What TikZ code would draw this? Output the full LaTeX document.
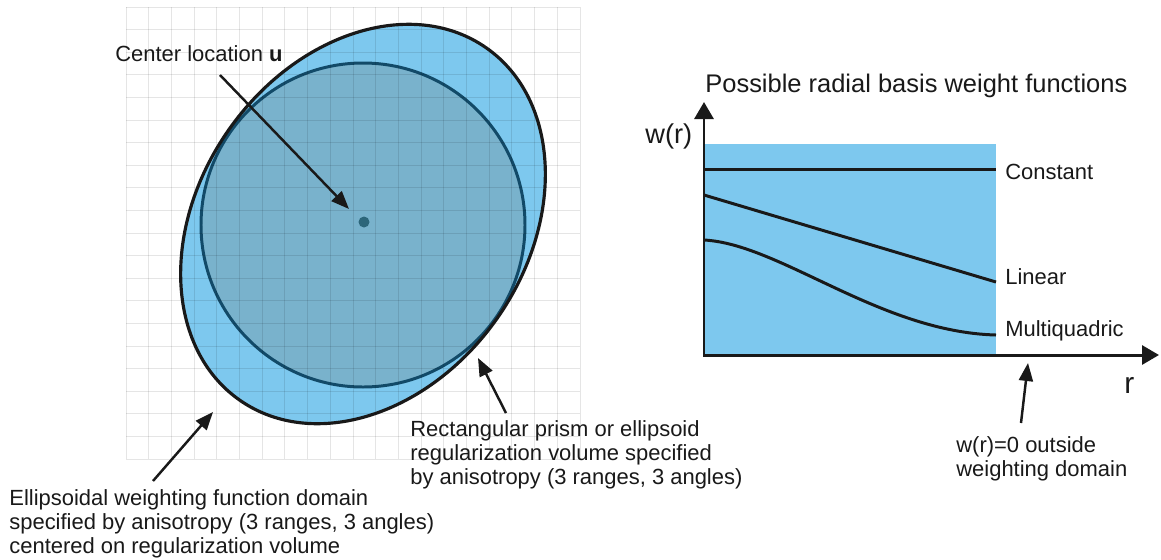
\documentclass[tikz,border=0pt]{standalone}
\usepackage{fontspec}
\setmainfont{Liberation Sans}
\usetikzlibrary{arrows.meta,positioning}
\definecolor{domainblue}{RGB}{125,200,238}
\definecolor{volumefill}{RGB}{121,178,204}
\definecolor{volumeedge}{RGB}{18,74,104}
\definecolor{centerdot}{RGB}{45,102,122}

\begin{document}
\begin{tikzpicture}[x=0.02cm, y=-0.02cm, >={Triangle[length=0.36cm,width=0.28cm]}]
  \tikzset{
    gridline/.style={draw=black, opacity=0.1, line width=0.5pt},
    pointer/.style={->, line width=1.4pt, black!90},
    axisline/.style={{Triangle[length=0.34cm,width=0.38cm]}-{Triangle[length=0.34cm,width=0.38cm]}, line width=1.7pt, black!90},
    curve/.style={line width=1.7pt, black!90},
    note/.style={font=\fontsize{12.5}{13.6}\selectfont, inner sep=0pt, align=left, text=black!90},
  }
  \useasboundingbox (0,0) rectangle (1161,559);

  % weighting domain and regularization volume
  \fill[domainblue, rotate around={55:(363,224)}] (363,224) ellipse [x radius=215, y radius=164];
  \draw[volumeedge, fill=volumefill, line width=1.7pt] (363,225) circle [radius=162];
  \draw[black!90, line width=1.8pt, rotate around={55:(363,224)}] (363,224) ellipse [x radius=215, y radius=164];
  \fill[centerdot] (364,222) circle [radius=5.5];

  % background grid
  \foreach \i in {0,...,20} {
    \draw[gridline] ({126+22.7*\i},7) -- ({126+22.7*\i},459);
    \draw[gridline] (126,{7+22.6*\i}) -- (580,{7+22.6*\i});
  }

  % labels on the left
  \node[note, anchor=base west] (centertxt) at (115,61) {Center location \textbf{u}};
  \node[note, anchor=north west] (ellipsoidtxt) at (9,489)
    {Ellipsoidal weighting function domain\\specified by anisotropy (3 ranges, 3 angles)\\centered on regularization volume};
  \node[note, anchor=north west] (prismtxt) at (410,420)
    {Rectangular prism or ellipsoid\\regularization volume specified\\by anisotropy (3 ranges, 3 angles)};

  \coordinate (ctail) at (220,75);
  \coordinate (ctip) at (349,209);
  \coordinate (etail) at (153,481);
  \coordinate (etip) at (213,412);
  \coordinate (ptail) at (506,413);
  \coordinate (ptip) at (478,358);
  \draw[pointer] (ctail) -- (ctip);
  \draw[pointer] (etail) -- (etip);
  \draw[pointer] (ptail) -- (ptip);

  % weight function chart
  \fill[domainblue] (704,144) rectangle (996,355);
  \coordinate (c0) at (704,169);
  \coordinate (c1) at (996,169);
  \coordinate (l0) at (704,195);
  \coordinate (l1) at (996,282);
  \coordinate (m0) at (704,240);
  \coordinate (m1) at (996,335);
  \draw[curve] (c0) -- (c1);
  \draw[curve] (l0) -- (l1);
  \draw[curve] (m0) .. controls (780,244) and (880,332) .. (m1);
  \coordinate (ytop) at (704,102);
  \coordinate (origin) at (704,355);
  \coordinate (xend) at (1159,355);
  \draw[axisline] (ytop) -- (origin) -- (xend);

  \node[anchor=base west, inner sep=0pt, font=\fontsize{14.5}{16}\selectfont, text=black!90] (title) at (705,92)
    {Possible radial basis weight functions};
  \node[anchor=base west, inner sep=0pt, font=\fontsize{15.5}{17}\selectfont, text=black!90] (wlabel) at (645,143) {w(r)};
  \node[anchor=base west, inner sep=0pt, font=\fontsize{17}{19}\selectfont, text=black!90] (rlabel) at (1124,393) {r};
  \node[note, anchor=base west] (consttxt) at (1005,179) {Constant};
  \node[note, anchor=base west] (lintxt) at (1005,284) {Linear};
  \node[note, anchor=base west] (multitxt) at (1005,336) {Multiquadric};

  \node[note, anchor=north west] (zerotxt) at (956,436) {w(r)=0 outside\\weighting domain};
  \coordinate (ztail) at (1021,423);
  \coordinate (ztip) at (1028,363);
  \draw[pointer] (ztail) -- (ztip);
\end{tikzpicture}
\end{document}
